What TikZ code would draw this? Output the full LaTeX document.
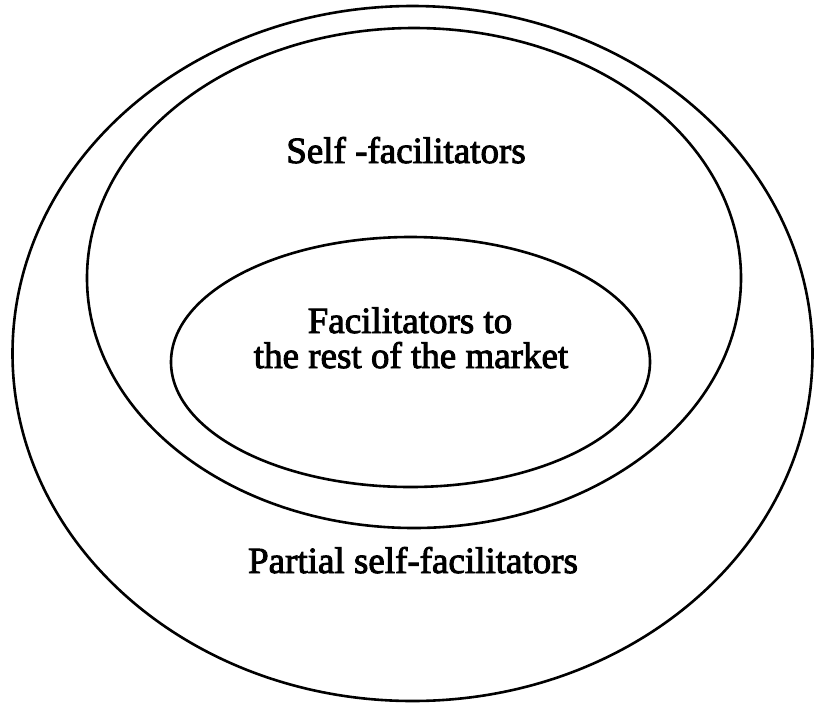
\documentclass[tikz,border=0pt]{standalone}
\usepackage{fontspec}
\setmainfont{Liberation Serif}[FakeBold=2.5]
\begin{document}
\begin{tikzpicture}[x=1pt, y=-1pt, line width=2.6pt,
		label text/.style={anchor=base, inner sep=0pt, font=\fontsize{37}{37}\selectfont}]
		
		\useasboundingbox (0,0) rectangle (814,705);
		
		% 1. Partial self-facilitators (outer ellipse)
		\draw (412.5,353.5) ellipse (400pt and 347.5pt);
		\node[label text] (partial) at (413,573) {Partial self-facilitators};
		
		% 2. Self-facilitators (middle ellipse)
		\draw (414,278) ellipse (327pt and 250pt);
		\node[label text] (self) at (406,163) {Self -facilitators};
		
		% 3. Facilitators to the rest of the market (inner ellipse)
		\draw (410.5,362) ellipse (239.5pt and 125pt);
		\node[label text] (facil) at (410,333) {Facilitators to};
		\node[label text] (rest) at (411,368) {the rest of the market};
		
	\end{tikzpicture}
\end{document}
